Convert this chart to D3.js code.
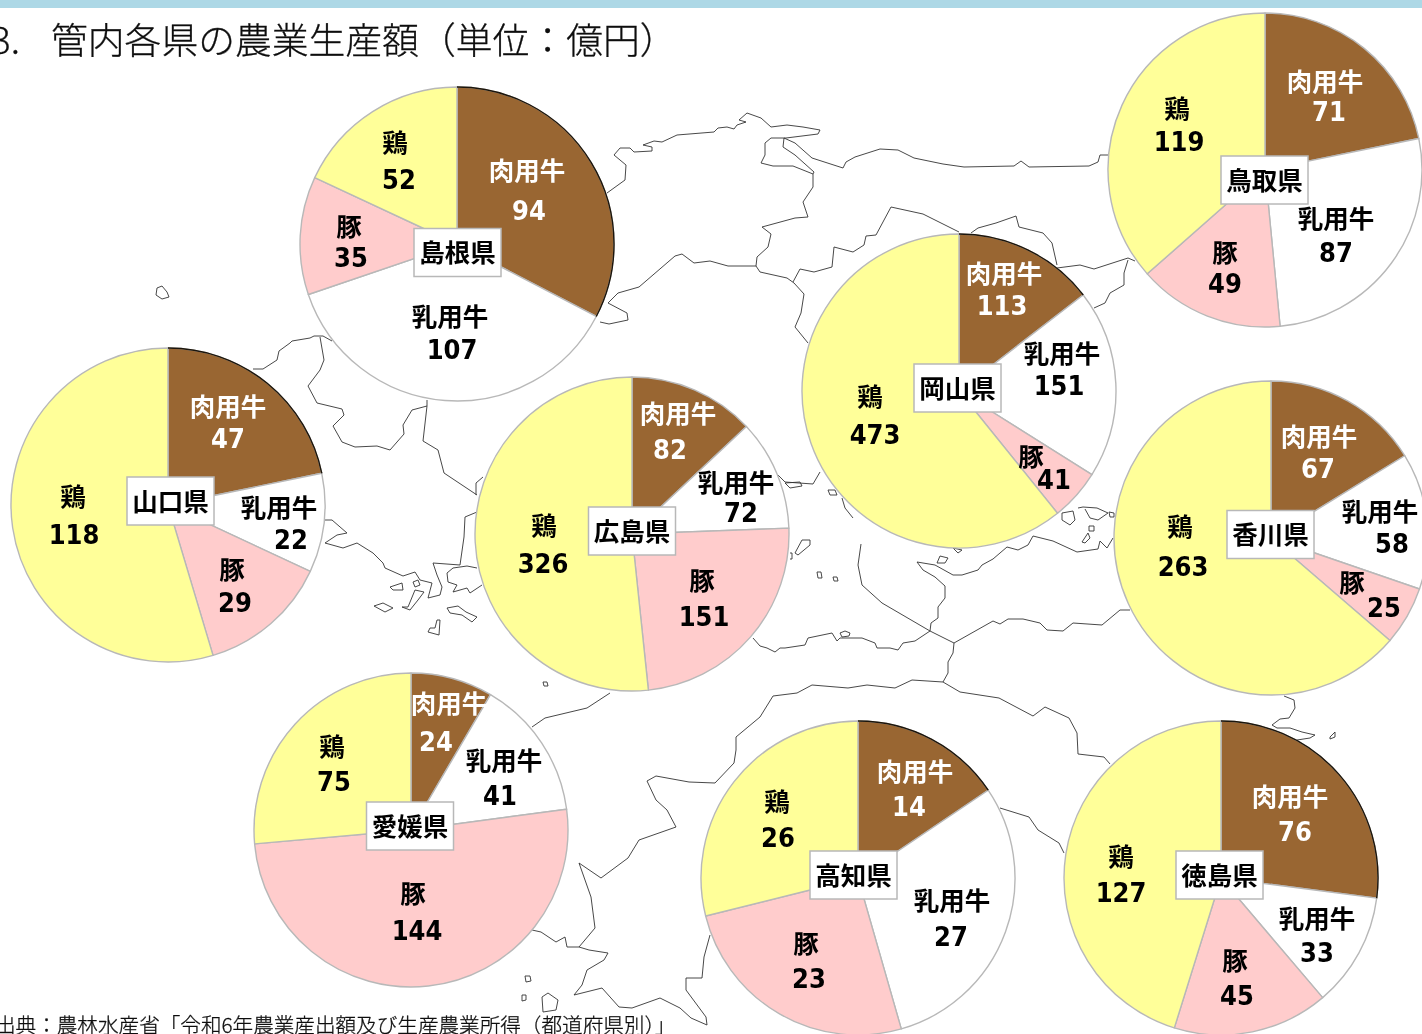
<!DOCTYPE html>
<html lang="ja"><head><meta charset="utf-8">
<script src="https://cdn.jsdelivr.net/npm/d3@7"></script>
<style>
html,body{margin:0;padding:0;background:#fff;overflow:hidden}
svg{display:block}
text{font-family:"Noto Sans CJK JP","Noto Sans",sans-serif}
.lab{font-weight:700;font-size:25.5px;text-anchor:middle;dominant-baseline:central}
.num{font-family:"DejaVu Sans","Noto Sans CJK JP",sans-serif;font-weight:700;font-stretch:condensed;font-size:27px;text-anchor:middle;dominant-baseline:central}
</style></head><body>
<svg id="chart" width="1422" height="1034" viewBox="0 0 1422 1034"></svg>
<script>
// ---- data ----
const titleNumber = "3.";
const titleText = "管内各県の農業生産額（単位：億円）";
const sourceText = "出典：農林水産省「令和6年農業産出額及び生産農業所得（都道府県別）」";
const categories = ["肉用牛","乳用牛","豚","鶏"];
const prefectures = ["島根県","鳥取県","岡山県","山口県","広島県","香川県","愛媛県","高知県","徳島県"];
const beefCattle  = [ 94, 71,113, 47, 82, 67, 24, 14, 76];
const dairyCattle = [107, 87,151, 22, 72, 58, 41, 27, 33];
const pigs        = [ 35, 49, 41, 29,151, 25,144, 23, 45];
const chickens    = [ 52,119,473,118,326,263, 75, 26,127];

// ---- styles and layout (not data) ----
const sliceColors = ["#996633","#ffffff","#ffcccc","#ffff99"];
const textColors  = ["#ffffff","#000000","#000000","#000000"];
const radius = 157;
const pieCentres = [[457,244],[1265,170],[959,391],[168,505],[632,534],[1271,538],[411,830],[858,878],[1221,878]];
const darkEdge   = [1,0,1,1,0,0,0,1,1];
const boxCentres = [[457.5,252.5],[1264.5,180],[957.5,388],[170.5,501],[632,531],[1270.5,534.5],[410,826],[853.5,875],[1219.5,875]];
// [label x, label y, number x, number y] for each prefecture and category
const labelPlaces = [
 [[527,171,529,210],[450,317,452,349],[349,227,351,257],[395,143,399,179]],
 [[1325,82,1329,111],[1336,219,1336,252],[1225,253,1225,283],[1177,109,1179,141]],
 [[1004,274,1002,305],[1062,354,1059,385],[1031,457,1054,479],[870,397,875,434]],
 [[228,407,228,438],[279,508,291,539],[232,570,235,602],[73,497,74,534]],
 [[678,414,670,449],[736,483,741,512],[702,581,704,616],[544,526,543,563]],
 [[1319,437,1318,468],[1380,512,1392,543],[1352,583,1384,607],[1180,527,1183,566]],
 [[449,704,436,741],[504,761,500,795],[413,894,417,930],[332,747,334,781]],
 [[915,772,909,806],[952,901,951,936],[806,944,809,978],[777,802,778,837]],
 [[1290,797,1295,831],[1317,919,1317,952],[1235,961,1237,995],[1121,857,1121,892]]
];
// background outline of the Chugoku-Shikoku region
const mapLines = [
 [[607,193],[625,180],[626,165],[614,155],[620,148],[630,148],[634,152],[652,151],[652,147],[643,145],[654,141],[662,142],[677,135],[714,132],[718,128],[727,127],[734,129],[737,125],[746,122],[739,120],[747,113],[761,118],[771,127],[787,125],[803,127],[820,130],[818,134],[786,138],[771,138],[765,143],[765,155],[761,163],[773,166],[793,166],[813,174],[814,172],[795,155],[783,147],[784,138],[795,143],[812,158],[843,168],[846,162],[855,157],[880,149],[898,150],[914,158],[943,164],[964,167],[1014,166],[1021,161],[1029,167],[1089,166],[1098,162],[1100,155],[1109,155]],
 [[813,174],[813,187],[803,202],[808,217],[795,218],[762,227],[771,234],[768,247],[757,257],[756,266]],
 [[600,322],[609,324],[628,320],[627,313],[608,303],[618,293],[639,287],[675,256],[682,254],[694,263],[710,261],[728,266],[756,266],[760,272],[787,278],[794,283],[804,294],[801,313],[795,327],[808,343]],
 [[793,282],[800,269],[814,272],[832,267],[834,247],[853,252],[864,245],[866,236],[876,235],[891,207],[923,214],[959,232]],
 [[971,233],[978,228],[996,223],[1016,216],[1019,227],[1043,233],[1052,243],[1057,265]],
 [[1057,268],[1080,265],[1094,269],[1128,258],[1135,261]],
 [[1128,260],[1124,273],[1124,285],[1110,293],[1105,303],[1094,308]],
 [[253,369],[263,369],[277,360],[279,351],[290,343],[292,341],[310,338],[314,336],[323,336],[332,341]],
 [[320,337],[324,360],[320,370],[308,386],[317,403],[342,409],[344,415],[333,426],[342,442],[355,447],[377,446],[390,450],[404,434],[403,425],[412,410],[427,406]],
 [[427,400],[427,406],[423,441],[438,450],[444,473],[477,495]],
 [[476,495],[476,483],[483,477]],
 [[485,510],[477,512],[465,517],[464,537],[460,565],[433,563],[437,575],[442,587],[440,595],[428,598],[432,583],[420,580],[415,572],[403,576],[385,568],[383,563],[373,553],[357,543],[343,548],[325,543],[337,535],[347,533],[332,520],[325,520]],
 [[477,568],[467,566],[453,568],[447,573],[448,582],[457,585],[453,592],[467,588],[470,593],[482,585]],
 [[390,587],[402,583],[403,590],[393,590],[390,587]],
 [[402,607],[408,607],[415,590],[424,592],[418,600],[410,610],[402,607]],
 [[374,606],[383,603],[393,608],[385,612],[374,606]],
 [[447,608],[458,606],[466,612],[477,617],[472,622],[462,615],[450,613],[447,608]],
 [[437,620],[440,620],[439,635],[428,632],[430,628],[435,628],[437,620]],
 [[413,582],[418,580],[420,585],[415,587],[413,582]],
 [[157,288],[162,286],[167,292],[169,297],[162,299],[156,295],[157,288]],
 [[778,475],[785,482],[813,484],[820,472]],
 [[785,483],[800,482],[802,486],[790,488],[785,483]],
 [[828,490],[835,490],[837,495],[830,495],[828,490]],
 [[842,498],[845,508],[853,518]],
 [[861,544],[858,565],[862,585],[882,603],[930,631],[954,643],[993,621],[1000,624],[1008,619],[1023,619],[1040,623],[1047,630],[1063,631],[1073,623],[1102,625],[1120,610],[1130,610]],
 [[954,643],[953,653],[948,662],[948,673],[943,682]],
 [[935,565],[917,562],[923,570],[935,577],[945,586],[945,598],[938,607],[938,618],[931,623],[930,631]],
 [[935,565],[953,575],[962,575],[978,570],[982,565],[993,559],[1007,547],[1018,550],[1028,545],[1033,536],[1053,541],[1077,552],[1098,549],[1100,541],[1107,548],[1113,538]],
 [[937,563],[940,556],[948,558],[945,563],[937,563]],
 [[953,548],[962,550],[958,553],[953,548]],
 [[1062,513],[1073,511],[1075,520],[1070,525],[1062,520],[1062,513]],
 [[1078,508],[1083,507],[1097,508],[1108,513],[1098,520],[1090,518],[1085,509]],
 [[1082,542],[1088,533],[1090,538],[1085,543],[1082,542]],
 [[1089,526],[1094,526],[1094,531],[1089,531],[1089,526]],
 [[1109,512],[1114,513],[1114,517],[1110,517],[1109,512]],
 [[795,553],[802,540],[810,540],[810,545],[798,555],[795,553]],
 [[790,553],[792,553],[792,559],[790,559]],
 [[817,572],[821,572],[822,578],[818,578],[817,572]],
 [[833,577],[837,577],[838,581],[834,581],[833,577]],
 [[840,633],[845,631],[850,633],[849,636],[842,637],[840,633]],
 [[753,638],[760,646],[767,648],[775,652],[780,648],[785,648],[805,645],[808,638],[832,633],[837,641],[840,638],[862,638],[875,643],[877,648],[890,648],[898,650],[903,643],[915,641],[930,631]],
 [[532,727],[545,718],[587,708],[610,693]],
 [[543,682],[547,682],[548,686],[544,686],[543,682]],
 [[736,737],[760,717],[773,696],[797,693],[812,685],[848,688],[867,685],[895,688],[912,680],[943,682],[960,692],[999,698],[1033,716],[1045,707],[1069,718],[1077,733],[1078,754],[1104,757],[1110,764]],
 [[736,737],[736,750],[734,763],[715,783],[689,782],[656,776],[647,781],[656,800],[667,810],[676,827],[639,840],[628,858],[601,878],[579,863],[591,897],[595,928],[579,947]],
 [[532,930],[541,932],[556,942],[565,937],[567,947],[579,947],[589,950],[608,953],[604,960],[587,970],[582,985],[574,995],[602,988],[619,1007],[632,1008],[660,998],[680,1008],[691,1018],[707,1025],[706,1017],[686,990],[686,978],[702,978],[704,957],[710,935]],
 [[525,976],[530,976],[531,981],[526,982],[525,976]],
 [[522,995],[526,995],[526,1000],[522,1001],[522,995]],
 [[542,997],[548,993],[558,1000],[556,1010],[543,1012],[542,997]],
 [[1000,808],[1029,817],[1038,830],[1059,843],[1064,853]],
 [[1284,696],[1294,700],[1295,708],[1289,718],[1280,719],[1272,725],[1277,728],[1290,728],[1302,732],[1315,735],[1310,738],[1297,740]],
 [[1330,737],[1335,732],[1335,737],[1330,739],[1330,737]]
];

// ---- drawing ----
const svg = d3.select("#chart");
const soft = svg.append("defs").append("filter").attr("id","soft")
  .attr("x",0).attr("y",0).attr("width",1).attr("height",1).attr("filterUnits","objectBoundingBox");
soft.append("feGaussianBlur").attr("stdDeviation",0.45);
const root = svg.append("g").attr("filter","url(#soft)");
root.append("rect").attr("width",1422).attr("height",1034).attr("fill","#fff");

root.append("rect").attr("x",0).attr("y",0).attr("width",1422).attr("height",8).attr("fill","#add8e6");

const thin = s=>s.attr("fill","#111").attr("stroke","#111").attr("stroke-width",0.3).attr("font-weight",300);
root.append("text").attr("x",-9).attr("y",54).attr("font-size",37).call(thin).text(titleNumber);
root.append("text").attr("x",51).attr("y",54).attr("font-size",36.8).call(thin).text(titleText);

const line = d3.line();
root.append("g").selectAll("path").data(mapLines).join("path")
  .attr("d",line).attr("fill","none").attr("stroke","#333").attr("stroke-width",0.9).attr("stroke-linejoin","round");

const color = d3.scaleOrdinal(categories, sliceColors);
const textColor = d3.scaleOrdinal(categories, textColors);
const pie = d3.pie().sort(null).value(d=>d.value);
const arc = d3.arc().innerRadius(0).outerRadius(radius);

prefectures.forEach((name,i)=>{
  const values = [beefCattle[i],dairyCattle[i],pigs[i],chickens[i]].map((value,k)=>({category:categories[k],value}));
  const slices = pie(values);
  const g = root.append("g").attr("transform",`translate(${pieCentres[i]})`);
  g.selectAll("path.slice").data(slices).join("path").attr("class","slice")
    .attr("d",arc).attr("fill",d=>color(d.data.category))
    .attr("stroke","#b8b8b8").attr("stroke-width",1.4).attr("stroke-linejoin","round");
  if(darkEdge[i]){
    const s = slices[0];
    g.append("path").attr("fill","none").attr("stroke","#1c1408").attr("stroke-width",1.4)
      .attr("d",d3.arc()({innerRadius:radius,outerRadius:radius,startAngle:s.startAngle,endAngle:s.endAngle}));
  }
  slices.forEach((s,k)=>{
    const p = labelPlaces[i][k];
    root.append("text").attr("class","lab").attr("x",p[0]).attr("y",p[1]-2.5).attr("fill",textColor(s.data.category)).text(s.data.category);
    root.append("text").attr("class","num").attr("x",p[2]).attr("y",p[3]).attr("fill",textColor(s.data.category)).text(s.data.value);
  });
});
prefectures.forEach((name,i)=>{
  const c = boxCentres[i];
  root.append("rect").attr("x",c[0]-43.5).attr("y",c[1]-24).attr("width",87).attr("height",48)
    .attr("fill","#fff").attr("stroke","#b8b8b8").attr("stroke-width",1.5);
  root.append("text").attr("class","lab").attr("x",c[0]).attr("y",c[1]-2).attr("fill","#000").text(name);
});
root.append("text").attr("x",-5).attr("y",1033).attr("font-size",20.6).call(thin).text(sourceText);
</script>
</body></html>
